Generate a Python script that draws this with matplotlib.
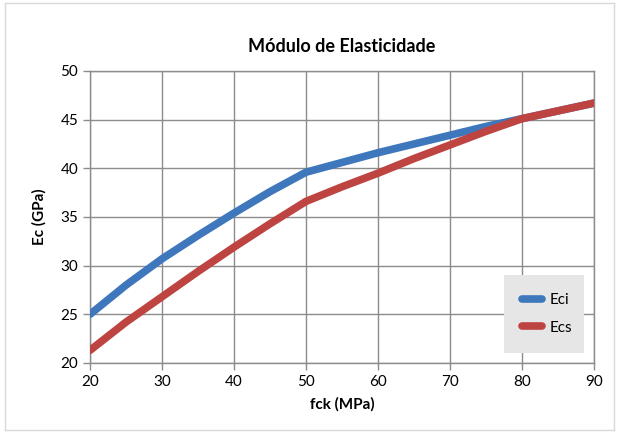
import matplotlib
matplotlib.use("Agg")
from matplotlib import pyplot as plt

plt.rcParams["font.family"] = ["Lato", "DejaVu Sans"]

fck = [20, 25, 30, 35, 40, 45, 50, 55, 60, 65, 70, 75, 80, 85, 90]
eci = [25.0, 28.0, 30.7, 33.1, 35.4, 37.6, 39.6, 40.6, 41.6, 42.5, 43.4, 44.3, 45.1, 45.9, 46.7]
ecs = [21.3, 24.2, 26.8, 29.4, 31.9, 34.3, 36.6, 38.1, 39.5, 41.0, 42.4, 43.8, 45.1, 45.9, 46.7]

fig = plt.figure(figsize=(6.19, 4.33), dpi=100)
# outer chart frame like the spreadsheet export
frame = fig.add_axes([0.008, 0.008, 0.984, 0.984])
frame.set_xticks([])
frame.set_yticks([])
for s in frame.spines.values():
    s.set_color("#d9d9d9")
    s.set_linewidth(1.0)
frame.patch.set_alpha(0)

ax = fig.add_axes([0.1454, 0.1617, 0.8142, 0.6744])
ax.plot(fck, eci, color="#3f77bd", lw=5.5, solid_capstyle="round", solid_joinstyle="round", label="Eci", zorder=3)
ax.plot(fck, ecs, color="#be4441", lw=5.5, solid_capstyle="round", solid_joinstyle="round", label="Ecs", zorder=3)

ax.set_xlim(20, 90)
ax.set_ylim(20, 50)
ax.set_xticks(range(20, 91, 10))
ax.set_yticks(range(20, 51, 5))
ax.grid(True, color="#8c8c8c", lw=1.0)
ax.tick_params(colors="#8c8c8c", labelcolor="black", labelsize=11, length=5, width=1.0, direction="out")
for s in ax.spines.values():
    s.set_color("#8c8c8c")
    s.set_linewidth(1.0)

ax.set_title("Módulo de Elasticidade", fontsize=13, fontweight="bold", pad=14)
ax.set_xlabel("fck (MPa)", fontsize=11, fontweight="bold", labelpad=6)
ax.set_ylabel("Ec (GPa)", fontsize=11, fontweight="bold", labelpad=10)

leg = ax.legend(loc="lower left", bbox_to_anchor=(0.821, 0.034, 0.159, 0.27), mode="expand",
                borderaxespad=0, frameon=True, fancybox=False, fontsize=11, handlelength=1.3,
                labelspacing=0.9, borderpad=1.2, handletextpad=0.5)
leg.get_frame().set_facecolor("#e6e6e6")
leg.get_frame().set_edgecolor("none")
leg.get_frame().set_alpha(1)

fig.savefig("out.png", dpi=100)
